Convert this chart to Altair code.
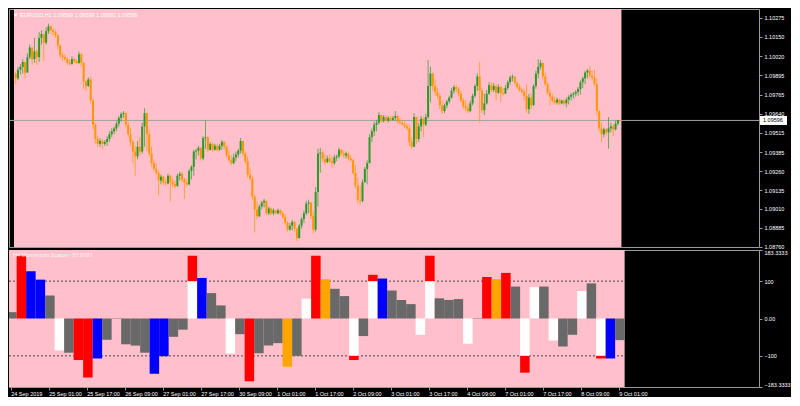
import json
import altair as alt
import pandas as pd

# ---------------- data (EURUSD H1) ----------------
first_open = 1.09907
closes = [
    1.09875, 1.09932, 1.09951, 1.09983, 1.09913, 1.10015, 1.10079, 1.10002, 1.10053, 1.10015,
    1.10143, 1.10168, 1.10111, 1.10187, 1.10219, 1.10194, 1.10181, 1.10162, 1.10092, 1.10028,
    1.10015, 1.10002, 1.09977, 1.09970, 1.10002, 1.09989, 1.09977, 1.10034, 1.09977, 1.09855,
    1.09824, 1.09868, 1.09728, 1.09568, 1.09473, 1.09441, 1.09460, 1.09441, 1.09454, 1.09473,
    1.09505, 1.09524, 1.09543, 1.09575, 1.09613, 1.09639, 1.09645, 1.09568, 1.09505, 1.09454,
    1.09390, 1.09358, 1.09422, 1.09390, 1.09556, 1.09645, 1.09505, 1.09377, 1.09313, 1.09275,
    1.09249, 1.09198, 1.09224, 1.09186, 1.09179, 1.09230, 1.09186, 1.09173, 1.09160, 1.09230,
    1.09243, 1.09205, 1.09186, 1.09173, 1.09262, 1.09288, 1.09390, 1.09396, 1.09415, 1.09345,
    1.09479, 1.09485, 1.09402, 1.09441, 1.09402, 1.09428, 1.09402, 1.09428, 1.09454, 1.09422,
    1.09364, 1.09332, 1.09313, 1.09351, 1.09371, 1.09396, 1.09460, 1.09377, 1.09326, 1.09237,
    1.09211, 1.09090, 1.09007, 1.08962, 1.09026, 1.09052, 1.09064, 1.08981, 1.09013, 1.08981,
    1.09001, 1.08981, 1.09001, 1.08981, 1.08956, 1.08918, 1.08873, 1.08899, 1.08924, 1.08879,
    1.08816, 1.08899, 1.08943, 1.08981, 1.09045, 1.09052, 1.08962, 1.08873, 1.09122, 1.09377,
    1.09383, 1.09339, 1.09320, 1.09345, 1.09326, 1.09313, 1.09351, 1.09358, 1.09402, 1.09377,
    1.09364, 1.09377, 1.09345, 1.09332, 1.09249, 1.09166, 1.09071, 1.09064, 1.09186, 1.09275,
    1.09313, 1.09485, 1.09524, 1.09568, 1.09581, 1.09632, 1.09594, 1.09619, 1.09594, 1.09613,
    1.09600, 1.09613, 1.09626, 1.09588, 1.09581, 1.09568, 1.09556, 1.09543, 1.09454, 1.09422,
    1.09619, 1.09473, 1.09556, 1.09607, 1.09568, 1.09619, 1.09824, 1.09907, 1.09824, 1.09785,
    1.09760, 1.09696, 1.09658, 1.09696, 1.09722, 1.09747, 1.09792, 1.09817, 1.09805, 1.09773,
    1.09728, 1.09690, 1.09677, 1.09658, 1.09709, 1.09760, 1.09824, 1.09887, 1.09792, 1.09664,
    1.09709, 1.09773, 1.09830, 1.09798, 1.09824, 1.09779, 1.09817, 1.09779, 1.09773, 1.09811,
    1.09849, 1.09881, 1.09887, 1.09843, 1.09817, 1.09798, 1.09785, 1.09760, 1.09670, 1.09747,
    1.09696, 1.09824, 1.09907, 1.09951, 1.09977, 1.09887, 1.09836, 1.09779, 1.09753, 1.09728,
    1.09715, 1.09734, 1.09709, 1.09728, 1.09709, 1.09734, 1.09753, 1.09766, 1.09773, 1.09785,
    1.09805, 1.09849, 1.09875, 1.09913, 1.09926, 1.09894, 1.09881, 1.09836, 1.09658, 1.09543,
    1.09505, 1.09537, 1.09517, 1.09543, 1.09556, 1.09537, 1.09575, 1.09599, 1.09596,
]
highs = [
    1.09919, 1.09951, 1.09970, 1.10002, 1.09983, 1.10041, 1.10098, 1.10079, 1.10143, 1.10066,
    1.10181, 1.10194, 1.10168, 1.10213, 1.10238, 1.10226, 1.10206, 1.10194, 1.10168, 1.10098,
    1.10047, 1.10034, 1.10015, 1.10002, 1.10021, 1.10015, 1.10002, 1.10053, 1.10041, 1.09983,
    1.09862, 1.09881, 1.09887, 1.09741, 1.09581, 1.09492, 1.09479, 1.09473, 1.09466, 1.09492,
    1.09524, 1.09543, 1.09556, 1.09588, 1.09626, 1.09651, 1.09658, 1.09651, 1.09588, 1.09549,
    1.09466, 1.09428, 1.09460, 1.09485, 1.09581, 1.09677, 1.09632, 1.09537, 1.09422, 1.09332,
    1.09313, 1.09262, 1.09237, 1.09224, 1.09211, 1.09243, 1.09237, 1.09211, 1.09198, 1.09243,
    1.09256, 1.09256, 1.09217, 1.09211, 1.09275, 1.09300, 1.09402, 1.09409, 1.09428, 1.09409,
    1.09492, 1.09594, 1.09492, 1.09454, 1.09447, 1.09441, 1.09441, 1.09441, 1.09466, 1.09460,
    1.09434, 1.09396, 1.09364, 1.09377, 1.09390, 1.09409, 1.09479, 1.09460, 1.09390, 1.09358,
    1.09281, 1.09230, 1.09103, 1.09058, 1.09039, 1.09064, 1.09077, 1.09064, 1.09026, 1.09020,
    1.09013, 1.09007, 1.09013, 1.09007, 1.08994, 1.08975, 1.08930, 1.08918, 1.08937, 1.08930,
    1.08886, 1.08911, 1.08956, 1.09001, 1.09064, 1.09071, 1.09039, 1.08994, 1.09154, 1.09409,
    1.09415, 1.09396, 1.09371, 1.09364, 1.09371, 1.09358, 1.09371, 1.09371, 1.09415, 1.09409,
    1.09396, 1.09390, 1.09383, 1.09364, 1.09345, 1.09300, 1.09217, 1.09160, 1.09205, 1.09288,
    1.09332, 1.09505, 1.09543, 1.09588, 1.09600, 1.09651, 1.09632, 1.09632, 1.09632, 1.09626,
    1.09626, 1.09626, 1.09658, 1.09632, 1.09613, 1.09600, 1.09588, 1.09575, 1.09568, 1.09485,
    1.09645, 1.09619, 1.09581, 1.09626, 1.09619, 1.09639, 1.09996, 1.09951, 1.09913, 1.09868,
    1.09811, 1.09773, 1.09728, 1.09709, 1.09734, 1.09760, 1.09811, 1.09830, 1.09836, 1.09817,
    1.09792, 1.09747, 1.09728, 1.09709, 1.09728, 1.09773, 1.09836, 1.09907, 1.09983, 1.09811,
    1.09773, 1.09798, 1.09849, 1.09849, 1.09843, 1.09836, 1.09836, 1.09824, 1.09811, 1.09830,
    1.09862, 1.09894, 1.09900, 1.09887, 1.09855, 1.09836, 1.09811, 1.09805, 1.09836, 1.09773,
    1.09773, 1.09836, 1.09926, 1.10002, 1.09996, 1.09977, 1.09913, 1.09849, 1.09805, 1.09773,
    1.09753, 1.09747, 1.09741, 1.09734, 1.09734, 1.09747, 1.09766, 1.09779, 1.09785, 1.09798,
    1.09817, 1.09862, 1.09887, 1.09926, 1.09938, 1.09958, 1.09926, 1.09932, 1.09875, 1.09664,
    1.09581, 1.09549, 1.09543, 1.09619, 1.09581, 1.09568, 1.09594, 1.09600, 1.09599,
]
lows = [
    1.09836, 1.09862, 1.09900, 1.09907, 1.09875, 1.09938, 1.10002, 1.09964, 1.09977, 1.09964,
    1.09983, 1.10098, 1.09989, 1.10098, 1.10168, 1.10168, 1.10155, 1.10143, 1.10066, 1.10009,
    1.09989, 1.09989, 1.09964, 1.09958, 1.09964, 1.09977, 1.09970, 1.09970, 1.09951, 1.09805,
    1.09792, 1.09817, 1.09709, 1.09537, 1.09441, 1.09422, 1.09422, 1.09409, 1.09428, 1.09428,
    1.09454, 1.09485, 1.09505, 1.09524, 1.09556, 1.09588, 1.09613, 1.09549, 1.09485, 1.09428,
    1.09313, 1.09230, 1.09339, 1.09364, 1.09377, 1.09422, 1.09396, 1.09358, 1.09288, 1.09262,
    1.09237, 1.09103, 1.09173, 1.09166, 1.09160, 1.09173, 1.09058, 1.09154, 1.09147, 1.09160,
    1.09198, 1.09186, 1.09077, 1.09160, 1.09166, 1.09205, 1.09230, 1.09339, 1.09364, 1.09332,
    1.09332, 1.09409, 1.09390, 1.09396, 1.09390, 1.09396, 1.09390, 1.09396, 1.09402, 1.09402,
    1.09351, 1.09320, 1.09300, 1.09307, 1.09326, 1.09351, 1.09377, 1.09358, 1.09307, 1.09217,
    1.09198, 1.09071, 1.08854, 1.08943, 1.08956, 1.09007, 1.09020, 1.08969, 1.08969, 1.08969,
    1.08969, 1.08975, 1.08975, 1.08969, 1.08943, 1.08905, 1.08860, 1.08867, 1.08867, 1.08860,
    1.08796, 1.08828, 1.08879, 1.08918, 1.08969, 1.08981, 1.08943, 1.08848, 1.08860, 1.09026,
    1.09249, 1.09320, 1.09300, 1.09313, 1.09313, 1.09281, 1.09300, 1.09326, 1.09345, 1.09364,
    1.09345, 1.09345, 1.09332, 1.09320, 1.09237, 1.09147, 1.09045, 1.09039, 1.09052, 1.09186,
    1.09173, 1.09313, 1.09454, 1.09492, 1.09524, 1.09568, 1.09581, 1.09581, 1.09588, 1.09581,
    1.09588, 1.09594, 1.09594, 1.09575, 1.09568, 1.09562, 1.09543, 1.09530, 1.09428, 1.09409,
    1.09422, 1.09441, 1.09454, 1.09524, 1.09485, 1.09556, 1.09607, 1.09715, 1.09792, 1.09760,
    1.09741, 1.09670, 1.09639, 1.09645, 1.09677, 1.09709, 1.09741, 1.09773, 1.09785, 1.09753,
    1.09715, 1.09670, 1.09658, 1.09645, 1.09651, 1.09696, 1.09747, 1.09792, 1.09581, 1.09645,
    1.09632, 1.09702, 1.09766, 1.09785, 1.09785, 1.09728, 1.09773, 1.09715, 1.09760, 1.09773,
    1.09798, 1.09830, 1.09855, 1.09830, 1.09805, 1.09785, 1.09773, 1.09728, 1.09645, 1.09639,
    1.09670, 1.09709, 1.09805, 1.09875, 1.09932, 1.09868, 1.09824, 1.09766, 1.09696, 1.09715,
    1.09702, 1.09702, 1.09696, 1.09702, 1.09696, 1.09683, 1.09702, 1.09728, 1.09741, 1.09753,
    1.09760, 1.09766, 1.09811, 1.09836, 1.09875, 1.09875, 1.09862, 1.09824, 1.09632, 1.09524,
    1.09454, 1.09485, 1.09498, 1.09409, 1.09517, 1.09492, 1.09530, 1.09562, 1.09592,
]

price_ticks = [1.10275, 1.10150, 1.10020, 1.09895, 1.09765, 1.09640, 1.09515,
               1.09385, 1.09260, 1.09135, 1.09010, 1.08885, 1.08760]
price_range = [1.08758, 1.10334]

time_labels = ["24 Sep 2019", "25 Sep 01:00", "25 Sep 17:00", "26 Sep 09:00",
               "27 Sep 01:00", "27 Sep 17:00", "30 Sep 09:00", "1 Oct 01:00",
               "1 Oct 17:00", "2 Oct 09:00", "3 Oct 01:00", "3 Oct 17:00",
               "4 Oct 09:00", "7 Oct 01:00", "7 Oct 17:00", "8 Oct 09:00", "9 Oct 01:00"]
bars_per_label = 16

# H4 Momentum Scalper histogram (one value per H4 bar)
hist_value = [17, 168, 126.5, 104, 61.5, -85.5, -91.5, -111, -158, -107,
              -57, -1, -69, -72.5, -91.5, -148, -101, -49, -30, 168,
              108.5, 68, 35, -94, -42, -168, -93, -72.5, -66, -129,
              -100, 53, 168, 105, 79.5, 60, -111, -47, 117, 107,
              75, 49.5, 38.5, -43.6, 168, 54, 49.6, 52, -67.5, 1,
              111, 105, 122, 85.5, -145, 84, 85.5, -59, -75, -43.6,
              73.5, 94, -107, -107, -57.8787]
hist_color = ["gray", "red", "blue", "blue", "gray", "white", "gray", "red", "red", "blue",
              "gray", "gray", "gray", "gray", "gray", "blue", "blue", "gray", "gray", "white",
              "blue", "gray", "gray", "white", "gray", "red", "gray", "gray", "gray", "orange",
              "gray", "white", "red", "orange", "gray", "gray", "white", "gray", "white", "blue",
              "gray", "gray", "gray", "white", "white", "gray", "gray", "gray", "white", "gray",
              "red", "orange", "red", "gray", "white", "white", "gray", "white", "gray", "gray",
              "white", "gray", "white", "blue", "gray"]
hist_levels = [100, -100]
hist_range = [-183.3333, 183.3333]

# ---------------- styling ----------------
PINK = "#FFC0CB"
FRAME = "#9a9a9a"
TXT = "#ffffff"
FONT = "Liberation Sans"
FS = 5.5
palette = {"gray": "#696969", "red": "#FF0000", "blue": "#0000FF",
           "white": "#FFFFFF", "orange": "#FFA500"}

W = 750
H_TOP = 238
H_BOT = 137
BAR_PX = 2.375
FIRST_PX = 1.7
x_min = -FIRST_PX / BAR_PX
x_max = (W - FIRST_PX) / BAR_PX

n = len(closes)
opens = [first_open] + closes[:-1]
df = pd.DataFrame({
    "i": list(range(n)),
    "o": opens,
    "c": closes,
    "h": [max(h, o, c) for h, o, c in zip(highs, opens, closes)],
    "l": [min(l, o, c) for l, o, c in zip(lows, opens, closes)],
})
df["col"] = ["#2A9A2A" if c >= o else "#FF9500" for o, c in zip(opens, closes)]

x_scale = alt.Scale(domain=[x_min, x_max], nice=False, zero=False)
yp_scale = alt.Scale(domain=price_range, nice=False, zero=False)
yh_scale = alt.Scale(domain=hist_range, nice=False, zero=False)

yp_axis = alt.Axis(orient="right", values=price_ticks, format=".5f", title=None,
                   grid=False, domain=False, tickSize=3, tickColor=FRAME,
                   labelPadding=2, labelFontSize=FS, labelFont=FONT,
                   labelColor=TXT, labelOverlap=False)
yh_axis = alt.Axis(orient="right", values=[183.3333, 100, 0, -100, -183.3333], title=None,
                   grid=False, domain=False, tickSize=3, tickColor=FRAME,
                   labelPadding=2, labelFontSize=FS, labelFont=FONT,
                   labelColor=TXT, labelOverlap=False, labelFlush=True,
                   labelExpr="datum.value == 0 ? '0.00' : (abs(datum.value) == 100 ? format(datum.value, 'd') : format(datum.value, '.4f'))")
x_axis = alt.Axis(values=[k * bars_per_label for k in range(len(time_labels))],
                  labelExpr=json.dumps(time_labels) + "[round(datum.value / %d)]" % bars_per_label,
                  title=None, grid=False, domain=False, tickSize=3, tickColor=FRAME,
                  labelAlign="left", labelPadding=1, labelFontSize=FS, labelFont=FONT,
                  labelColor=TXT, labelOverlap=False, labelBound=False, labelFlush=False)

# ---------------- top pane: candles ----------------
bg_df = pd.DataFrame({"x0": [x_min], "x1": [n - 0.5]})
pink_top = alt.Chart(bg_df).mark_rect(color=PINK).encode(
    x=alt.X("x0:Q", scale=x_scale, axis=None), x2="x1:Q",
    y=alt.value(0), y2=alt.value(H_TOP))

last = pd.DataFrame({"p": [closes[-1]],
                     "t": ["%.5f" % closes[-1]],
                     "head": ["\u25bc EURUSD,H1  %.5f %.5f %.5f %.5f" % (opens[-1], df.h.iloc[-1], df.l.iloc[-1], closes[-1])]})

price_line = alt.Chart(last).mark_rule(color="#a0a0a0", strokeWidth=1).encode(
    y=alt.Y("p:Q", scale=yp_scale, axis=yp_axis))

wicks = alt.Chart(df).mark_rule(strokeWidth=1, opacity=0.7).encode(
    x=alt.X("i:Q", scale=x_scale, axis=None),
    y=alt.Y("l:Q", scale=yp_scale, axis=yp_axis), y2="h:Q",
    color=alt.Color("col:N", scale=None))
bodies = alt.Chart(df).mark_bar(size=2).encode(
    x=alt.X("i:Q", scale=x_scale, axis=None),
    y=alt.Y("o:Q", scale=yp_scale, axis=yp_axis), y2="c:Q",
    color=alt.Color("col:N", scale=None))

head_txt = alt.Chart(last).mark_text(align="left", baseline="middle", font=FONT,
                                     fontSize=FS, color=TXT).encode(
    x=alt.value(4), y=alt.value(6), text="head:N")

price_box = alt.Chart(last).mark_rect(color="#ffffff", yOffset=-4.5, y2Offset=4.5).encode(
    x=alt.value(W + 1), x2=alt.value(W + 28),
    y=alt.Y("p:Q", scale=yp_scale, axis=yp_axis), y2="p:Q")
price_txt = alt.Chart(last).mark_text(align="left", baseline="middle", font=FONT,
                                      fontSize=FS, color="#000000").encode(
    x=alt.value(W + 4), y=alt.Y("p:Q", scale=yp_scale, axis=yp_axis), text="t:N")

top = alt.layer(pink_top, price_line, wicks, bodies, head_txt, price_box, price_txt).properties(
    width=W, height=H_TOP)

# ---------------- bottom pane: histogram ----------------
rows = []
for j, (v, cname) in enumerate(zip(hist_value, hist_color)):
    tail = cname == "white" and abs(v) > 100
    main_end = (100 if v > 0 else -100) if tail else v
    left = max(4 * j - 1.5, x_min)
    rows.append({"x0": left, "x1": 4 * j + 2.5, "y0": 0, "y1": main_end,
                 "col": palette[cname]})
    if tail:
        rows.append({"x0": left, "x1": 4 * j + 2.5, "y0": main_end, "y1": v,
                     "col": palette["red"]})
hdf = pd.DataFrame(rows)

pink_bot = alt.Chart(bg_df).mark_rect(color=PINK).encode(
    x=alt.X("x0:Q", scale=x_scale, axis=x_axis), x2="x1:Q",
    y=alt.value(0), y2=alt.value(H_BOT))

lv_df = pd.DataFrame({"lv": hist_levels, "x0": [x_min] * 2, "x1": [n - 0.5] * 2})
levels = alt.Chart(lv_df).mark_rule(color="#4a4a4a", strokeDash=[2, 2], strokeWidth=1).encode(
    x=alt.X("x0:Q", scale=x_scale, axis=x_axis), x2="x1:Q",
    y=alt.Y("lv:Q", scale=yh_scale, axis=yh_axis))

hist = alt.Chart(hdf).mark_rect().encode(
    x=alt.X("x0:Q", scale=x_scale, axis=x_axis), x2="x1:Q",
    y=alt.Y("y0:Q", scale=yh_scale, axis=yh_axis), y2="y1:Q",
    color=alt.Color("col:N", scale=None))

ind_df = pd.DataFrame({"t": ["H4 Momentum Scalper %.4f" % hist_value[-1]]})
ind_txt = alt.Chart(ind_df).mark_text(align="left", baseline="middle", font=FONT,
                                      fontSize=FS, color=TXT, opacity=0.85).encode(
    x=alt.value(4), y=alt.value(5), text="t:N")

bottom = alt.layer(pink_bot, levels, hist, ind_txt).properties(width=W, height=H_BOT)

chart = alt.vconcat(top, bottom, spacing=3, bounds="flush").properties(
    background="#000000", padding=0
).configure_view(stroke=FRAME, strokeWidth=1)

chart.save("out.html", embed_options={"renderer": "svg", "actions": False})
